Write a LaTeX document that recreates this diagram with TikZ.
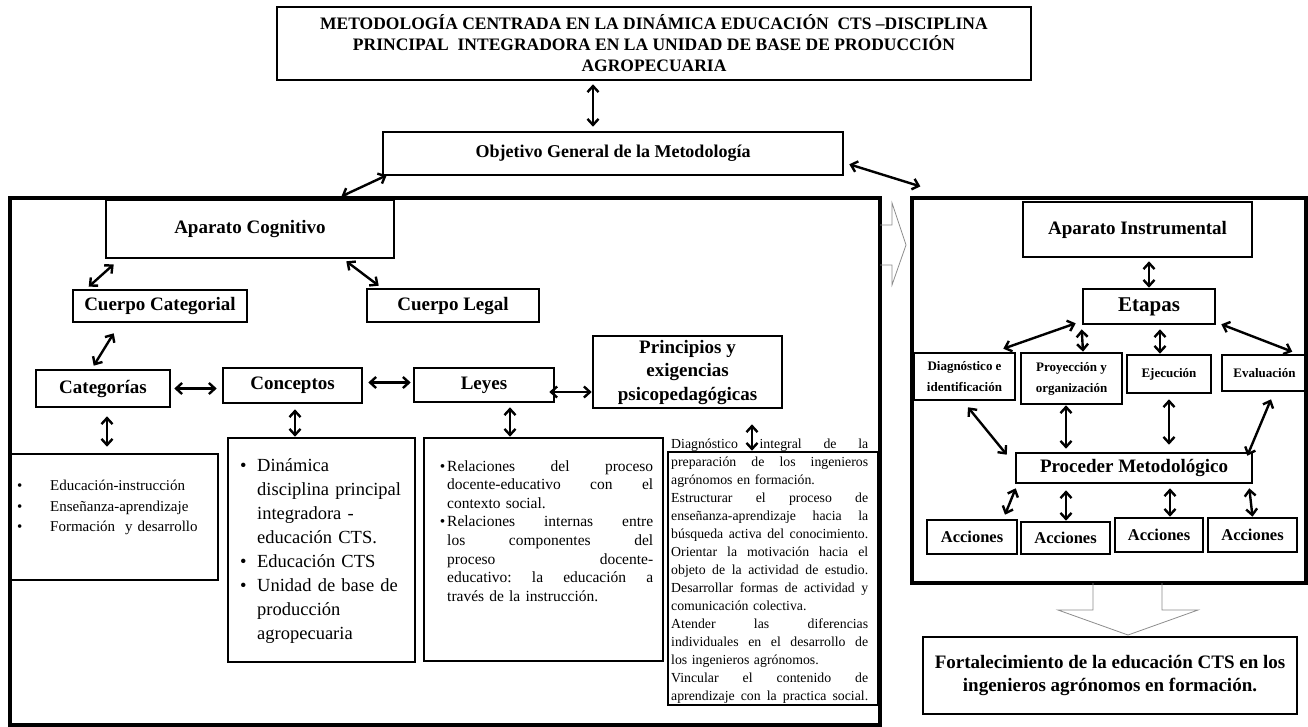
\documentclass[tikz,border=0pt]{standalone}
\usepackage{fontspec}
\setmainfont{Liberation Serif}
\usetikzlibrary{arrows.meta}

\tikzstyle{box}=[draw,line width=2.6pt,inner sep=0pt,align=center,font=\bfseries\fontsize{19}{23.5}\selectfont]
\tikzstyle{panel}=[draw,line width=3.2pt,inner sep=0pt]
\tikzstyle{stage}=[box,font=\bfseries\fontsize{13}{21}\selectfont]
\tikzstyle{dbl}=[{Straight Barb[length=6pt,width=11pt]}-{Straight Barb[length=6pt,width=11pt]},line width=2.4pt]
\tikzstyle{hollow}=[draw=black!45,line width=0.8pt]
\tikzstyle{items}=[anchor=base west,inner sep=0pt,align=left]

\newcommand{\jline}[2][206pt]{\leavevmode\hbox to #1{\spaceskip=.25em plus 1fil\relax\xspaceskip=\spaceskip #2}}
\newcommand{\bul}[1]{\makebox[#1][l]{\textbullet}}

\begin{document}
\begin{tikzpicture}[x=1pt,y=-1pt]
\useasboundingbox (0,0) rectangle (1308,726);
		% First we draw the two panels
		\node[panel,minimum width=870pt,minimum height=527pt] (lp) at (445,461.5) {};
		\node[panel,minimum width=394pt,minimum height=385pt] (rp) at (1109,390.5) {};
		% top boxes
		\node[box,minimum width=754pt,minimum height=73pt,font=\bfseries\fontsize{17.5}{21}\selectfont] (title) at (654,43.5)
			{METODOLOGÍA CENTRADA EN LA DINÁMICA EDUCACIÓN~ CTS –DISCIPLINA\\PRINCIPAL~ INTEGRADORA EN LA UNIDAD DE BASE DE PRODUCCIÓN\\AGROPECUARIA};
		\node[box,minimum width=460pt,minimum height=43pt,font=\bfseries\fontsize{18}{22}\selectfont] (obj) at (613,153.5) {Objetivo General de la Metodología};
		% cognitive side
		\node[box,minimum width=288pt,minimum height=58pt] (ac) at (250,229) {Aparato Cognitivo};
		\node[box,minimum width=174pt,minimum height=32pt] (cc) at (160,306) {Cuerpo Categorial};
		\node[box,minimum width=172pt,minimum height=33pt] (cl) at (453,305.5) {Cuerpo Legal};
		\node[box,minimum width=134pt,minimum height=37pt] (cat) at (103,388.5) {Categorías};
		\node[box,minimum width=139pt,minimum height=35pt] (con) at (292.5,385.5) {Conceptos};
		\node[box,minimum width=140pt,minimum height=34pt] (ley) at (484,385) {Leyes};
		\node[box,minimum width=189pt,minimum height=72pt] (pri) at (687.5,372) {Principios y\\exigencias\\psicopedagógicas};
		\node[box,minimum width=208pt,minimum height=126pt] (catlist) at (114,517) {};
		\node[box,minimum width=187pt,minimum height=224pt] (conlist) at (321.5,550) {};
		\node[box,minimum width=239pt,minimum height=223pt] (leylist) at (543.5,549.5) {};
		\node[box,minimum width=210pt,minimum height=253pt] (prilist) at (773,578.5) {};
		\node[items,text width=190pt,font=\fontsize{15}{20.5}\selectfont] (catitems) at (17,490.5)
			{\bul{33pt}Educación-instrucción\\\bul{33pt}Enseñanza-aprendizaje\\\bul{33pt}Formación~ y desarrollo};
		\node[items,text width=172pt,font=\fontsize{18.5}{24}\selectfont] (conitems) at (240,471)
			{\bul{17pt}Dinámica\\\hspace*{17pt}disciplina principal\\\hspace*{17pt}integradora -\\\hspace*{17pt}educación CTS.\\
			\bul{17pt}Educación CTS\\\bul{17pt}Unidad de base de\\\hspace*{17pt}producción\\\hspace*{17pt}agropecuaria};
		\node[items,text width=206pt,font=\fontsize{15.5}{18.6}\selectfont] (leyitems) at (447,471)
			{\leavevmode\llap{\textbullet\hspace{2pt}}\jline{Relaciones del proceso}\\\jline{docente-educativo con el}\\contexto social.\\
			\leavevmode\llap{\textbullet\hspace{2pt}}\jline{Relaciones internas entre}\\\jline{los componentes del}\\\jline{proceso docente-}\\
			\jline{educativo: la educación a}\\través de la instrucción.};
		\node[items,text width=197pt,font=\fontsize{13.8}{18.07}\selectfont] (priitems) at (671,448)
			{\jline[197pt]{Diagnóstico integral de la}\\\jline[197pt]{preparación de los ingenieros}\\agrónomos en formación.\\
			\jline[197pt]{Estructurar el proceso de}\\\jline[197pt]{enseñanza-aprendizaje hacia la}\\\jline[197pt]{búsqueda activa del conocimiento.}\\
			\jline[197pt]{Orientar la motivación hacia el}\\\jline[197pt]{objeto de la actividad de estudio.}\\
			\jline[197pt]{Desarrollar formas de actividad y}\\comunicación colectiva.\\
			\jline[197pt]{Atender las diferencias}\\\jline[197pt]{individuales en el desarrollo de}\\los ingenieros agrónomos.\\
			\jline[197pt]{Vincular el contenido de}\\\jline[197pt]{aprendizaje con la practica social.}};
		% instrumental side
		\node[box,minimum width=229pt,minimum height=55pt] (ai) at (1137.5,229.5) {Aparato Instrumental};
		\node[box,minimum width=132pt,minimum height=35pt,font=\bfseries\fontsize{21}{24}\selectfont] (et) at (1149,306.5) {Etapas};
		\node[stage,minimum width=101pt,minimum height=47pt] (diag) at (964.5,376.5) {Diagnóstico e\\identificación};
		\node[stage,minimum width=101pt,minimum height=51pt] (proy) at (1071.5,378.5) {Proyección y\\organización};
		\node[stage,minimum width=84pt,minimum height=38pt] (eje) at (1169,374) {Ejecución};
		\node[stage,minimum width=85pt,minimum height=36pt] (eva) at (1264.5,373) {Evaluación};
		\node[box,minimum width=236pt,minimum height=30pt] (pm) at (1134,468) {Proceder Metodológico};
		\node[box,minimum width=90pt,minimum height=34pt,font=\bfseries\fontsize{16.5}{20}\selectfont] (a1) at (972,537) {Acciones};
		\node[box,minimum width=89pt,minimum height=32pt,font=\bfseries\fontsize{16.5}{20}\selectfont] (a2) at (1065.5,538) {Acciones};
		\node[box,minimum width=88pt,minimum height=34pt,font=\bfseries\fontsize{16.5}{20}\selectfont] (a3) at (1159,535) {Acciones};
		\node[box,minimum width=89pt,minimum height=34pt,font=\bfseries\fontsize{16.5}{20}\selectfont] (a4) at (1252.5,535) {Acciones};
		\node[box,minimum width=374pt,minimum height=77pt,font=\bfseries\fontsize{19}{23}\selectfont] (fin) at (1110,675.5)
			{Fortalecimiento de la educación CTS en los\\ingenieros agrónomos en formación.};
		% hollow arrows
		\draw[hollow] (880,225) -- (892,225) -- (892,203) -- (906,245) -- (892,285) -- (892,265) -- (880,265);
		\draw[hollow] (1093,583) -- (1093,610) -- (1058,610) -- (1128,635) -- (1198,610) -- (1162,610) -- (1162,583);
		% Then the connections
		\draw[dbl] ([xshift=-61pt,yshift=-3pt]title.south) -- ([xshift=-20pt,yshift=4pt]obj.north);
		\draw[dbl] ([xshift=5pt,yshift=1pt]obj.south west) -- ([xshift=333pt]lp.north west);
		\draw[dbl] ([xshift=5pt,yshift=12pt]obj.south east) -- ([xshift=10pt,yshift=10pt]rp.north west);
		\draw[dbl] ([xshift=9pt,yshift=-5pt]ac.south west) -- ([xshift=17pt,yshift=2pt]cc.north west);
		\draw[dbl] ([xshift=-49pt,yshift=-2pt]ac.south east) -- ([xshift=13pt,yshift=2pt]cl.north west);
		\draw[dbl] ([xshift=42pt,yshift=-10pt]cc.south west) -- ([xshift=59pt,yshift=3pt]cat.north west);
		\draw[dbl] ([xshift=3pt]cat.east) -- ([xshift=-5pt]cat.east -| con.west);
		\draw[dbl] ([xshift=5pt,yshift=3pt]con.east) -- ([xshift=-2pt,yshift=3pt]con.east -| ley.west);
		\draw[dbl] ([xshift=-6pt,yshift=-7pt]ley.east) -- ([yshift=-7pt]ley.east -| pri.west);
		\draw[dbl] ([xshift=4pt,yshift=-8pt]cat.south) -- ([xshift=-7pt,yshift=6pt]catlist.north);
		\draw[dbl] ([xshift=2.5pt,yshift=-5pt]con.south) -- ([xshift=-26.5pt]conlist.north);
		\draw[dbl] ([xshift=26pt,yshift=-4pt]ley.south) -- ([xshift=-33.5pt]leylist.north);
		\draw[dbl] ([xshift=64.5pt,yshift=-15pt]pri.south) -- ([xshift=-21pt]prilist.north);
		\draw[dbl] ([xshift=11.5pt,yshift=-3pt]ai.south) -- (et.north);
		\draw[dbl] ([xshift=-6pt,yshift=2pt]et.south west) -- ([xshift=-13pt,yshift=3pt]diag.north east);
		\draw[dbl] ([yshift=-4pt]et.south west) -- ([xshift=11.5pt]proy.north);
		\draw[dbl] ([xshift=11pt,yshift=-4pt]et.south) -- ([xshift=-9pt]eje.north);
		\draw[dbl] ([xshift=5pt,yshift=1pt]et.south east) -- ([xshift=-16pt,yshift=2pt]eva.north east);
		\draw[dbl] ([xshift=3.5pt,yshift=-6pt]diag.south) -- ([xshift=-8pt,yshift=-3pt]pm.north west);
		\draw[dbl] ([xshift=-5.5pt]proy.south) -- ([xshift=-68pt,yshift=3pt]pm.north);
		\draw[dbl] ([yshift=-5pt]eje.south) -- ([xshift=35pt,yshift=7pt]pm.north);
		\draw[dbl] ([xshift=6.5pt,yshift=-7pt]eva.south) -- ([xshift=-6pt,yshift=-4pt]pm.north east);
		\draw[dbl] ([xshift=1pt,yshift=-4pt]pm.south west) -- ([xshift=33pt,yshift=4pt]a1.north);
		\draw[dbl] ([xshift=-68pt,yshift=-6pt]pm.south) -- ([xshift=0.5pt]a2.north);
		\draw[dbl] ([xshift=36pt,yshift=-4pt]pm.south) -- ([xshift=11pt]a3.north);
		\draw[dbl] ([xshift=-4pt,yshift=-4pt]pm.south east) -- (a4.north);
\end{tikzpicture}
\end{document}
